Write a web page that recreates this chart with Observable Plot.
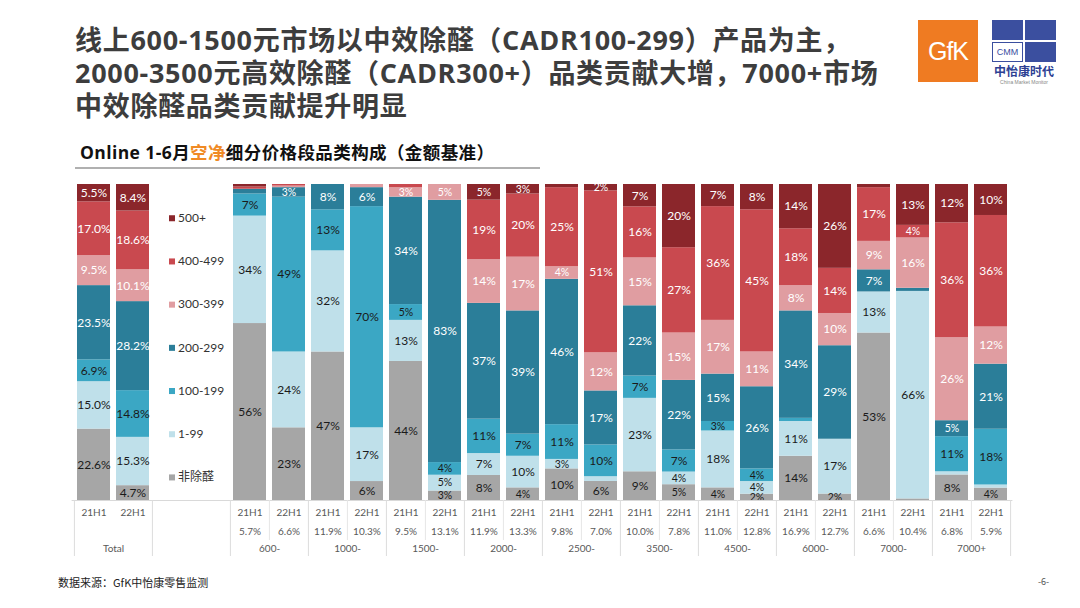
<!DOCTYPE html>
<html><head><meta charset="utf-8">
<script src="https://cdn.jsdelivr.net/npm/d3@7"></script>
<script src="https://cdn.jsdelivr.net/npm/@observablehq/plot@0.6"></script>
<style>
body{margin:0;background:#fff;}
#page{position:relative;width:1080px;height:608px;overflow:hidden;font-family:"Noto Sans CJK SC","Noto Sans",sans-serif;background:#fff;}
#title{position:absolute;left:75px;top:23px;font-family:"Open Sans","Noto Sans CJK SC",sans-serif;font-size:27px;font-weight:700;line-height:33px;letter-spacing:0.7px;color:#3d3d3d;white-space:nowrap;}
#sub{position:absolute;left:80px;top:139px;font-family:"Open Sans","Noto Sans CJK SC",sans-serif;font-size:17.5px;font-weight:700;letter-spacing:0.4px;color:#111;white-space:nowrap;}
#sub .o{color:#f08a24;}
#subline{position:absolute;left:75px;top:167px;width:465px;height:2px;background:#b0b0b0;}
#chart{position:absolute;left:0;top:170px;}
#foot{position:absolute;left:58px;top:574px;font-size:11px;color:#222;}
#pg{position:absolute;left:1038px;top:575px;font-size:9px;color:#555;}
#gfk{position:absolute;left:918px;top:20px;width:60px;height:62px;background:#ef7b22;color:#fff;font-family:"Liberation Sans",sans-serif;font-size:25px;text-align:center;line-height:62px;letter-spacing:-1px;}
#cmm{position:absolute;left:992px;top:20px;width:64px;height:42px;}
#cmm div{position:absolute;}
#cmmtxt{position:absolute;left:990px;top:62px;width:68px;text-align:center;font-size:12px;font-weight:700;color:#2d3f93;}
#cmmsmall{position:absolute;left:992px;top:79px;width:64px;text-align:center;font-size:5px;color:#888;font-family:"Liberation Sans",sans-serif;}
</style></head><body>
<div id="page">
  <div id="title">线上600-1500元市场以中效除醛（CADR100-299）产品为主，<br>2000-3500元高效除醛（CADR300+）品类贡献大增，7000+市场<br>中效除醛品类贡献提升明显</div>
  <div id="gfk">GfK</div>
  <div id="cmm">
    <div style="left:0;top:0;width:31px;height:20px;background:#3b4f9f;"></div>
    <div style="left:33px;top:0;width:31px;height:20px;background:#3b4f9f;"></div>
    <div style="left:0;top:22px;width:29px;height:18px;border:1px solid #3b4f9f;background:#fff;color:#3b4f9f;font-size:9px;font-family:'Liberation Sans',sans-serif;line-height:18px;text-align:center;">CMM</div>
    <div style="left:33px;top:22px;width:31px;height:20px;background:#3b4f9f;"></div>
  </div>
  <div id="cmmtxt">中怡康时代</div>
  <div id="cmmsmall">China Market Monitor</div>
  <div id="sub">Online 1-6月<span class="o">空净</span>细分价格段品类构成（金额基准）</div>
  <div id="subline"></div>
  <div id="chart"></div>
  <div id="foot">数据来源：GfK中怡康零售监测</div>
  <div id="pg">-6-</div>
</div>
<script>
// ---- data ----
const groups = ["Total","600-","1000-","1500-","2000-","2500-","3500-","4500-","6000-","7000-","7000+"];
const periods = ["21H1","22H1"];
const segments = ["非除醛","1-99","100-199","200-299","300-399","400-499","500+"];
const segColors = ["#a6a6a6","#bfe0ea","#3ba7c4","#2b7e99","#e09da1","#c9494f","#8b262b"];
const lightTextSegs = ["200-299","300-399","400-499","500+"];
// bar order: Total 21H1, Total 22H1, 600- 21H1, 600- 22H1, ... 7000+ 22H1
const vNonVoc  = [22.6, 4.7, 56, 23, 47, 6, 44, 3, 8, 4, 10, 6, 9, 5, 4, 2, 14, 2, 53, 0.5, 8, 4];
const v1_99    = [15.0, 15.3, 34, 24, 32, 17, 13, 5, 7, 10, 3, 1.5, 23, 4, 18, 4, 11, 17, 13, 66, 1, 1];
const v100_199 = [6.9, 14.8, 7, 49, 13, 70, 5, 4, 11, 7, 11, 10, 7, 7, 3, 4, 1, 0, 0, 0, 11, 18];
const v200_299 = [23.5, 28.2, 1.5, 3, 8, 6, 34, 83, 37, 39, 46, 17, 22, 22, 15, 26, 34, 29, 7, 1, 5, 21];
const v300_399 = [9.5, 10.1, 0, 0.5, 0, 1, 3, 5, 14, 17, 4, 12, 15, 15, 17, 11, 8, 10, 9, 16, 26, 12];
const v400_499 = [17.0, 18.6, 0.7, 0.5, 0, 0, 1, 0, 19, 20, 25, 51, 16, 27, 36, 45, 18, 14, 17, 4, 36, 36];
const v500p    = [5.5, 8.4, 0.8, 0, 0, 0, 0, 0, 5, 3, 1, 2, 7, 20, 7, 8, 14, 26, 1, 13, 12, 10];
const shareLabels = ["","","5.7%","6.6%","11.9%","10.3%","9.5%","13.1%","11.9%","13.3%","9.8%","7.0%","10.0%","7.8%","11.0%","12.8%","16.9%","12.7%","6.6%","10.4%","6.8%","5.9%"];

// ---- build tables ----
const seriesVals = [vNonVoc, v1_99, v100_199, v200_299, v300_399, v400_499, v500p];
const bars = [];
groups.forEach(g => periods.forEach(p => bars.push({group:g, period:p, key:g+"|"+p})));
bars.forEach((b,i) => b.share = shareLabels[i]);
const rows = [];
bars.forEach((b,i) => segments.forEach((s,j) => rows.push({key:b.key, group:b.group, seg:s, value:seriesVals[j][i]})));
const xDomain = [bars[0].key, bars[1].key, "gap1", "gap2", ...bars.slice(2).map(b => b.key)];

const W = 1080, H = 395, mt = 14, mb = 65, ml = 71.6, mr = 67.6;
const plotH = H - mt - mb;
const step = (W - ml - mr) / xDomain.length;
const fmt = d => d.group === "Total" ? d.value.toFixed(1) + "%" : Math.round(d.value) + "%";
const showLabel = d => d.value >= 2;
const labelSize = d => (d.group !== "Total" && d.value < 6) ? 10.5 : 12;
const legendRows = segments.map((s,i) => ({seg:s, i}));
const legendY = d => 0.073 + d.i * 0.1367;
const lineFull = [bars[0].key, "gap1", ...groups.slice(1).map(g => g+"|21H1")];
const linePart = groups.slice(1).map(g => g+"|22H1");
const stackOpts = {x:"key", y:"value", z:"seg", order:segments, offset:"normalize"};

const chart = Plot.plot({
  width: W, height: H, marginTop: mt, marginBottom: mb, marginLeft: ml, marginRight: mr,
  x: {type:"band", domain:xDomain, paddingInner:0.15, paddingOuter:0.075, axis:null},
  y: {domain:[0,1], axis:null},
  color: {domain:segments, range:segColors},
  style: {fontFamily:"Lato, 'Noto Sans CJK SC', sans-serif", fontSize:"12px", background:"transparent", overflow:"visible"},
  marks: [
    Plot.barY(rows, Plot.stackY({...stackOpts, fill:"seg"})),
    Plot.text(rows, Plot.stackY({...stackOpts, text: d => (showLabel(d) && lightTextSegs.includes(d.seg)) ? fmt(d) : "", fill:"white", fontSize: labelSize})),
    Plot.text(rows, Plot.stackY({...stackOpts, text: d => (showLabel(d) && !lightTextSegs.includes(d.seg)) ? fmt(d) : "", fill:"#1a1a1a", fontSize: labelSize})),
    // legend
    Plot.dot(legendRows, {x: d => "gap1", y: legendY, fill:"seg", symbol:"square", r:3.4}),
    Plot.text(legendRows, {x: d => "gap1", y: legendY, text:"seg", dx:6, textAnchor:"start", fill:"#333", fontSize:12}),
    // table grid
    Plot.ruleY([0], {stroke:"#d9d9d9", strokeWidth:1}),
    Plot.ruleX(lineFull, {x: d => d, dx: -step/2, y1: 0, y2: -56/plotH, stroke:"#dcdcdc"}),
    Plot.ruleX([bars[bars.length-1].key], {x: d => d, dx: step/2, y1: 0, y2: -56/plotH, stroke:"#dcdcdc"}),
    Plot.ruleX(linePart, {x: d => d, dx: -step/2, y1: 0, y2: -40/plotH, stroke:"#e6e6e6"}),
    // table text
    Plot.text(bars, {x:"key", y: d => 0, dy: 12, text:"period", fill:"#595959", fontSize:10}),
    Plot.text(bars, {x:"key", y: d => 0, dy: 31, text:"share", fill:"#595959", fontSize:10}),
    Plot.text(groups, {x: g => g+"|21H1", y: d => 0, dx: step/2, dy: 48, text: g => g, fill:"#595959", fontSize:10})
  ]
});
document.getElementById("chart").appendChild(chart);
</script>
</body></html>
